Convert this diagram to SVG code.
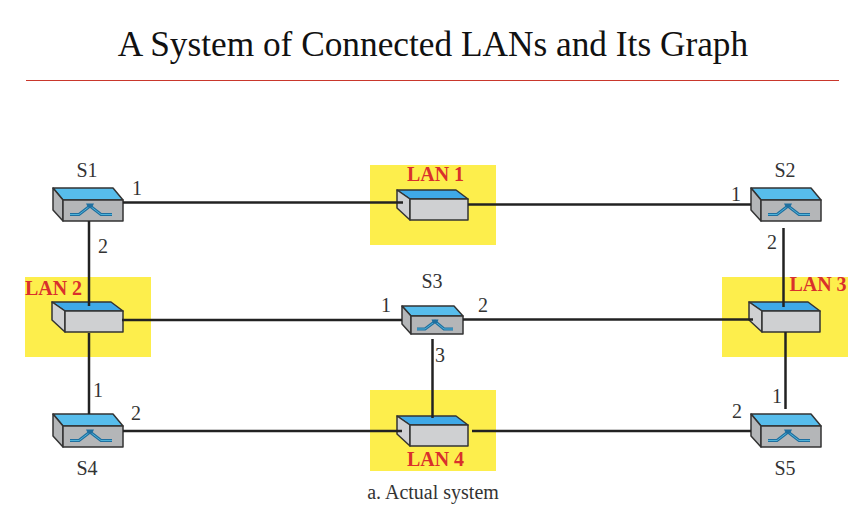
<svg xmlns="http://www.w3.org/2000/svg" width="864" height="518" viewBox="0 0 864 518">
<style>
text{font-family:"Liberation Serif","Times New Roman",serif;fill:#333;font-size:20px;text-anchor:middle}
.title{font-size:35.300px;fill:#111}
.lan{font-weight:bold;fill:#d9302c;font-size:20px}
.c{stroke:#222;stroke-width:2.500;fill:none}
.e{stroke:#333;stroke-width:1.500;stroke-linejoin:round}
.y{fill:#fdee4c}
.i{fill:none;stroke:#1f6f9f;stroke-width:3}
.k{fill:none;stroke:#4fb3d9;stroke-width:1}
</style>
<defs>
<g id="sw">
<path class="e" fill="#57bdec" d="M0 0H60L70 12H10Z"/>
<path class="e" fill="#b4b6b8" d="M0 0L10 12V33L0 22Z"/>
<rect class="e" fill="#b4b6b8" x="10" y="12" width="60" height="21"/>
<path class="i" d="M17 26.500H26L37 18L48 26.500H59"/>
<path class="k" d="M17 26.500H26L37 18L48 26.500H59"/>
<path d="M33 15.500H41L39 19.500H35Z" fill="#1f6f9f"/>
</g>
<g id="sw3">
<path class="e" fill="#57bdec" d="M0 0H52L61 10H9Z"/>
<path class="e" fill="#b4b6b8" d="M0 0L9 10V28L0 18Z"/>
<rect class="e" fill="#b4b6b8" x="9" y="10" width="52" height="18"/>
<path class="i" d="M15 23H23L33 15.500L42 23H51"/>
<path class="k" d="M15 23H23L33 15.500L42 23H51"/>
<path d="M29.500 13.500H36.500L35 17H31Z" fill="#1f6f9f"/>
</g>
<g id="hub">
<path class="e" fill="#3fa9e8" d="M0 0H59L71 9H13Z"/>
<path class="e" fill="#cfd0d2" d="M0 0L13 9V30L0 18Z"/>
<rect class="e" fill="#cfd0d2" x="13" y="9" width="58" height="21"/>
</g>
</defs>
<rect id="bg" width="864" height="518" fill="#fff"/>
<text class="title" x="433" y="55.500">A System of Connected LANs and Its Graph</text>
<line x1="26" y1="80.500" x2="839" y2="80.500" stroke="#c9372c" stroke-width="1"/>
<rect class="y" x="370" y="165" width="126" height="80"/>
<rect class="y" x="25" y="277" width="126" height="80"/>
<rect class="y" x="722" y="277" width="126" height="80"/>
<rect class="y" x="370" y="390" width="126" height="81"/>
<g id="S1"><use href="#sw" x="53" y="188"/><text x="87" y="177">S1</text><text x="137" y="195">1</text><text x="103" y="253">2</text></g>
<g id="S2"><use href="#sw" x="751" y="188"/><text x="785" y="177">S2</text><text x="736" y="201">1</text><text x="772" y="249">2</text></g>
<g id="S3"><use href="#sw3" x="402" y="306"/><text x="432" y="288">S3</text><text x="386" y="312">1</text><text x="483" y="312">2</text><text x="440" y="362">3</text></g>
<g id="S4"><use href="#sw" x="53" y="414"/><text x="87" y="475">S4</text><text x="98" y="397">1</text><text x="136" y="420">2</text></g>
<g id="S5"><use href="#sw" x="751" y="414"/><text x="785" y="475">S5</text><text x="777" y="403">1</text><text x="737" y="418">2</text></g>
<g id="LAN1"><use href="#hub" x="397" y="190"/><text class="lan" x="435.500" y="181">LAN 1</text></g>
<g id="LAN2"><use href="#hub" x="52" y="302"/><text class="lan" x="53.500" y="295">LAN 2</text></g>
<g id="LAN3"><use href="#hub" x="749" y="302"/><text class="lan" x="818" y="291">LAN 3</text></g>
<g id="LAN4"><use href="#hub" x="397" y="416"/><text class="lan" x="435.500" y="466">LAN 4</text></g>
<text x="433" y="498.500">a. Actual system</text>
<g id="connectors">
<path class="c" d="M123 202.500H403"/>
<path class="c" d="M468 204.500H751"/>
<path class="c" d="M89 221V306"/>
<path class="c" d="M89 333V414"/>
<path class="c" d="M783.500 228V307"/>
<path class="c" d="M785.500 332V409"/>
<path class="c" d="M122 320H402"/>
<path class="c" d="M463 319.500H753"/>
<path class="c" d="M432.500 339V418"/>
<path class="c" d="M123 431H402"/>
<path class="c" d="M472 431H751"/>
</g>
</svg>
